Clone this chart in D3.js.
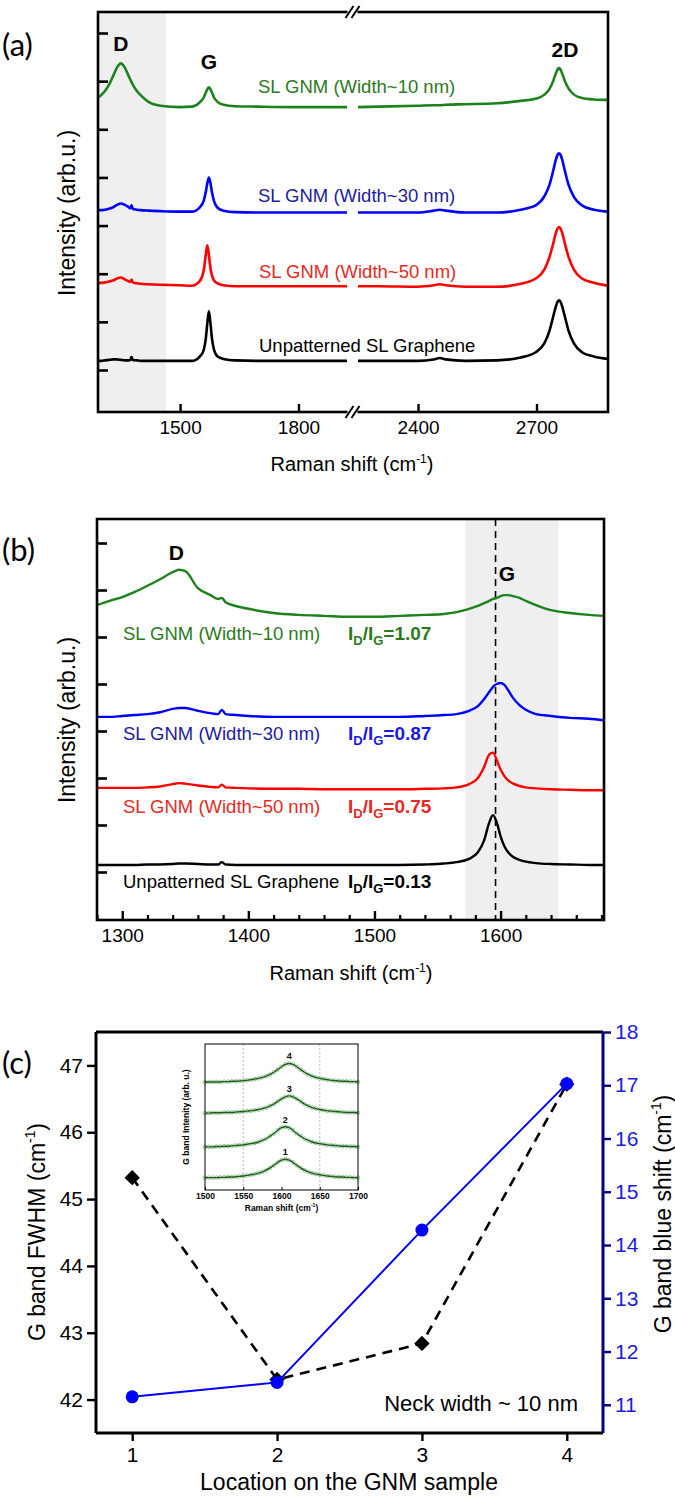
<!DOCTYPE html>
<html><head><meta charset="utf-8">
<script src="https://cdn.jsdelivr.net/npm/d3@7"></script>
<style>body{margin:0;background:#fff}svg{display:block}</style>
</head><body><svg id="c" width="675" height="1498"></svg>
<script>
// ---------------- DATA ----------------
// Panel (a): broken Raman axis, shared x grid per segment (cm-1)
const aGridL=[1292,1300,1310,1320,1330,1340,1350,1360,1370,1374,1377,1380,1390,1400,1420,1450,1500,1530,1550,1560,1565,1569,1573,1577,1581,1586,1595,1610,1640,1700,1800,1923];
const aGridR=[2248,2300,2400,2440,2455,2470,2520,2600,2660,2700,2720,2733,2742,2749,2754,2757,2760,2765,2772,2781,2795,2815,2845,2881];
const aGreenL=[5.66,5.71,5.80,5.93,6.10,6.28,6.37,6.28,6.10,6.03,5.98,5.93,5.80,5.71,5.57,5.49,5.46,5.47,5.56,5.66,5.76,5.83,5.87,5.83,5.76,5.66,5.57,5.51,5.48,5.47,5.46,5.46];
const aGreenR=[5.46,5.47,5.49,5.50,5.50,5.51,5.52,5.54,5.59,5.64,5.72,5.84,6.00,6.16,6.25,6.27,6.25,6.16,6.00,5.85,5.72,5.65,5.62,5.61];
const aBlueL=[3.32,3.32,3.33,3.35,3.38,3.43,3.46,3.43,3.38,3.36,3.42,3.35,3.33,3.32,3.31,3.30,3.29,3.29,3.38,3.52,3.69,3.88,4.00,3.88,3.68,3.51,3.37,3.31,3.28,3.27,3.27,3.27];
const aBlueR=[3.27,3.27,3.27,3.31,3.33,3.31,3.27,3.27,3.33,3.43,3.61,3.85,4.13,4.37,4.48,4.50,4.48,4.37,4.13,3.85,3.59,3.42,3.33,3.29];
const aRedL=[1.81,1.81,1.82,1.84,1.86,1.90,1.92,1.88,1.84,1.83,1.88,1.82,1.80,1.79,1.78,1.77,1.76,1.75,1.85,2.07,2.39,2.59,2.39,2.11,1.96,1.86,1.80,1.76,1.74,1.74,1.74,1.74];
const aRedR=[1.74,1.74,1.73,1.76,1.78,1.76,1.73,1.73,1.79,1.91,2.09,2.35,2.62,2.85,2.95,2.97,2.95,2.85,2.62,2.35,2.08,1.90,1.81,1.75];
const aBlackL=[0.19,0.19,0.20,0.21,0.22,0.22,0.21,0.20,0.20,0.21,0.27,0.21,0.20,0.19,0.19,0.19,0.19,0.19,0.28,0.42,0.64,0.97,1.22,0.97,0.64,0.42,0.28,0.23,0.20,0.19,0.19,0.19];
const aBlackR=[0.19,0.19,0.19,0.22,0.25,0.22,0.19,0.20,0.26,0.38,0.56,0.82,1.10,1.32,1.43,1.45,1.43,1.32,1.10,0.82,0.55,0.37,0.28,0.23];
const aXTicks=[1500,1800,2400,2700];
const aYTicks=[0,1,2,3,4,5,6,7];
const aBand=[1292,1464];

// Panel (b)
const bGrid=[1280,1290,1300,1310,1320,1330,1340,1345,1350,1360,1370,1376,1379,1382,1390,1400,1420,1440,1460,1480,1500,1520,1540,1555,1565,1575,1582,1587,1591,1594,1597,1600,1603,1606,1610,1615,1620,1628,1640,1655,1670,1682];
const bGreen=[5.68,5.77,5.85,5.96,6.09,6.23,6.38,6.43,6.40,6.04,5.89,5.81,5.83,5.74,5.66,5.60,5.51,5.47,5.45,5.43,5.43,5.45,5.47,5.49,5.53,5.60,5.66,5.72,5.77,5.81,5.83,5.87,5.89,5.89,5.87,5.83,5.77,5.68,5.57,5.51,5.47,5.45];
const bBlue=[3.30,3.30,3.32,3.34,3.36,3.40,3.47,3.49,3.49,3.43,3.38,3.36,3.45,3.36,3.34,3.32,3.30,3.30,3.30,3.30,3.30,3.30,3.32,3.34,3.36,3.43,3.53,3.68,3.83,3.94,4.00,4.02,3.98,3.87,3.70,3.55,3.45,3.36,3.32,3.28,3.26,3.23];
const bRed=[1.79,1.79,1.79,1.79,1.80,1.82,1.87,1.89,1.88,1.84,1.81,1.80,1.86,1.80,1.79,1.78,1.77,1.77,1.76,1.76,1.76,1.76,1.77,1.78,1.80,1.87,2.00,2.24,2.50,2.54,2.38,2.18,2.04,1.95,1.88,1.83,1.80,1.78,1.76,1.75,1.74,1.74];
const bBlack=[0.15,0.15,0.15,0.15,0.16,0.16,0.17,0.18,0.18,0.17,0.16,0.16,0.21,0.16,0.15,0.15,0.15,0.15,0.15,0.15,0.15,0.15,0.16,0.18,0.21,0.28,0.42,0.68,1.05,1.21,1.05,0.76,0.55,0.42,0.32,0.26,0.22,0.19,0.17,0.16,0.15,0.15];
const bXMajor=[1300,1400,1500,1600];
const bXMinor=[1280,1320,1340,1360,1380,1420,1440,1460,1480,1520,1540,1560,1580,1620,1640,1660,1680];
const bYTicks=[0,1,2,3,4,5,6,7];
const bBand=[1572,1646];
const bDash=1596;
const bLabels=[
  {name:"SL GNM (Width~10 nm)",ratio:"1.07",color:"#2b7a22",rcolor:"#2b7a22",y:640},
  {name:"SL GNM (Width~30 nm)",ratio:"0.87",color:"#1c1c9e",rcolor:"#1a1ae0",y:740},
  {name:"SL GNM (Width~50 nm)",ratio:"0.75",color:"#e62a22",rcolor:"#e62a22",y:813},
  {name:"Unpatterned SL Graphene",ratio:"0.13",color:"#000",rcolor:"#000",y:888}
];

// Panel (c)
const cLoc=[1,2,3,4];
const cFWHM=[45.32,42.30,42.84,46.72];
const cShift=[11.15,11.42,14.28,17.03];
const cLeftTicks=[42,43,44,45,46,47];
const cRightTicks=[11,12,13,14,15,16,17,18];
// Inset of (c)
const inX=[1500,1505,1510,1515,1520,1525,1530,1535,1540,1545,1550,1555,1560,1565,1570,1575,1580,1585,1590,1595,1600,1605,1610,1615,1620,1625,1630,1635,1640,1645,1650,1655,1660,1665,1670,1675,1680,1685,1690,1695,1700];
const in1=[0.38,0.38,0.38,0.38,0.39,0.39,0.40,0.40,0.41,0.42,0.43,0.45,0.47,0.49,0.52,0.56,0.61,0.68,0.76,0.85,0.92,0.95,0.92,0.85,0.76,0.68,0.61,0.56,0.52,0.49,0.47,0.45,0.43,0.42,0.41,0.40,0.40,0.39,0.39,0.38,0.38];
const in2=[1.33,1.33,1.33,1.34,1.34,1.35,1.35,1.36,1.37,1.38,1.39,1.41,1.43,1.45,1.48,1.53,1.58,1.66,1.74,1.84,1.92,1.95,1.92,1.84,1.74,1.66,1.58,1.53,1.48,1.45,1.43,1.41,1.39,1.38,1.37,1.36,1.35,1.35,1.34,1.34,1.33];
const in3=[2.37,2.37,2.38,2.38,2.38,2.39,2.39,2.39,2.40,2.41,2.42,2.43,2.44,2.46,2.48,2.51,2.54,2.59,2.65,2.73,2.81,2.87,2.90,2.87,2.81,2.73,2.65,2.59,2.54,2.51,2.48,2.46,2.44,2.43,2.42,2.41,2.40,2.39,2.39,2.39,2.38];
const in4=[3.32,3.33,3.33,3.33,3.33,3.34,3.34,3.35,3.35,3.36,3.37,3.38,3.40,3.42,3.44,3.47,3.51,3.56,3.63,3.71,3.80,3.87,3.90,3.87,3.80,3.71,3.63,3.56,3.51,3.47,3.44,3.42,3.40,3.38,3.37,3.36,3.35,3.35,3.34,3.34,3.33];
const inTicks=[1500,1550,1600,1650,1700];
const inGuides=[1550,1650];
const inPeakLabels=[{t:"1",x:1605,y:0.95},{t:"2",x:1605,y:1.95},{t:"3",x:1610,y:2.90},{t:"4",x:1610,y:3.90}];

// ---------------- DRAW ----------------
const F='"Liberation Sans", Arial, Helvetica, sans-serif';
const svg=d3.select('#c');
svg.append('rect').attr('width',675).attr('height',1498).attr('fill','#fff');

function supTitle(g,x,y,pre,size,rot,color){
  const t=g.append('text').attr('font-family',F).attr('font-size',size).attr('fill',color||'#000').attr('text-anchor','middle');
  if(rot) t.attr('transform',`translate(${x},${y}) rotate(-90)`); else t.attr('x',x).attr('y',y);
  t.append('tspan').text(pre+' (cm');
  t.append('tspan').attr('font-size',size*0.6).attr('dy',-size*0.42).text('-1');
  t.append('tspan').attr('dy',size*0.42).text(')');
  return t;
}
function panelLabel(txt,x,y){
  svg.append('text').attr('x',x).attr('y',y).attr('font-family','Lato, "Open Sans", sans-serif').attr('font-size',31).text(txt);
}

// ===== Panel (a) =====
{
const A={l:98,r:608,t:12,b:412};
const xA=d3.scaleLinear().domain([1292,1923,2248,2881]).range([A.l,347,358,A.r]);
const yA=d3.scaleLinear().domain([0,7]).range([370,33]);
const g=svg.append('g');
g.append('rect').attr('x',xA(aBand[0])).attr('y',A.t).attr('width',xA(aBand[1])-xA(aBand[0])).attr('height',A.b-A.t).attr('fill','#efefef');
const line=d3.line().x(d=>xA(d[0])).y(d=>yA(d[1])).curve(d3.curveMonotoneX);
const series=[[aBlackL,aBlackR,'#000'],[aRedL,aRedR,'#ff0000'],[aBlueL,aBlueR,'#0000ff'],[aGreenL,aGreenR,'#1c821c']];
series.forEach(([L,R,c])=>{
  g.append('path').attr('d',line(aGridL.map((x,i)=>[x,L[i]]))).attr('fill','none').attr('stroke',c).attr('stroke-width',2.6);
  g.append('path').attr('d',line(aGridR.map((x,i)=>[x,R[i]]))).attr('fill','none').attr('stroke',c).attr('stroke-width',2.6);
});
g.append('rect').attr('x',A.l).attr('y',A.t).attr('width',A.r-A.l).attr('height',A.b-A.t).attr('fill','none').attr('stroke','#000').attr('stroke-width',2.6);
g.append('g').attr('transform',`translate(${A.l},0)`).call(d3.axisLeft(yA).tickValues(aYTicks).tickSize(-10).tickFormat(''))
 .call(a=>{a.select('.domain').remove();a.selectAll('line').attr('stroke-width',2.6);});
g.append('g').attr('transform',`translate(0,${A.b})`).call(d3.axisBottom(xA).tickValues(aXTicks).tickSize(-8).tickPadding(9).tickFormat(d3.format('d')))
 .call(a=>{a.select('.domain').remove();a.selectAll('line').attr('stroke-width',2.4);
   a.selectAll('text').attr('font-family',F).attr('font-size',19).attr('fill','#000');});
// axis breaks
const bx=352.5;
[A.t,A.b].forEach(y=>{
  g.append('rect').attr('x',bx-5).attr('y',y-3).attr('width',10).attr('height',6).attr('fill','#fff');
  [-3,3].forEach(o=>g.append('line').attr('x1',bx+o-4).attr('y1',y+6).attr('x2',bx+o+4).attr('y2',y-6).attr('stroke','#000').attr('stroke-width',2));
});
// labels
const bold=(t,x,y)=>g.append('text').attr('x',x).attr('y',y).attr('text-anchor','middle').attr('font-family',F).attr('font-weight','bold').attr('font-size',21).text(t);
bold('D',xA(1350),51); bold('G',xA(1573),69); bold('2D',xA(2772),57);
const lab=(t,x,y,c)=>g.append('text').attr('x',x).attr('y',y).attr('font-family',F).attr('font-size',18.5).attr('fill',c).text(t);
lab('SL GNM (Width~10 nm)',258,93,'#2b7a22');
lab('SL GNM (Width~30 nm)',258,202,'#1c1c9e');
lab('SL GNM (Width~50 nm)',259,278,'#e62a22');
lab('Unpatterned SL Graphene',259,352,'#000');
supTitle(g,352,471,'Raman shift',20,false);
g.append('text').attr('transform','translate(75,213) rotate(-90)').attr('text-anchor','middle').attr('font-family',F).attr('font-size',23).text('Intensity (arb.u.)');
panelLabel('(a)',2,56);
}

// ===== Panel (b) =====
{
const B={l:97,r:604,t:519,b:920};
const xB=d3.scaleLinear().domain([1280,1682]).range([B.l,B.r]);
const yB=d3.scaleLinear().domain([0,7]).range([872,543]);
const g=svg.append('g');
g.append('rect').attr('x',xB(bBand[0])).attr('y',B.t).attr('width',xB(bBand[1])-xB(bBand[0])).attr('height',B.b-B.t).attr('fill','#efefef');
g.append('line').attr('x1',xB(bDash)).attr('x2',xB(bDash)).attr('y1',B.t).attr('y2',B.b).attr('stroke','#000').attr('stroke-width',1.6).attr('stroke-dasharray','7,5');
const line=d3.line().x(d=>xB(d[0])).y(d=>yB(d[1])).curve(d3.curveMonotoneX);
[[bBlack,'#000'],[bRed,'#ff0000'],[bBlue,'#0000ff'],[bGreen,'#1c821c']].forEach(([Y,c])=>{
  g.append('path').attr('d',line(bGrid.map((x,i)=>[x,Y[i]]))).attr('fill','none').attr('stroke',c).attr('stroke-width',2.4);
});
g.append('rect').attr('x',B.l).attr('y',B.t).attr('width',B.r-B.l).attr('height',B.b-B.t).attr('fill','none').attr('stroke','#000').attr('stroke-width',2.6);
g.append('g').attr('transform',`translate(${B.l},0)`).call(d3.axisLeft(yB).tickValues(bYTicks).tickSize(-10).tickFormat(''))
 .call(a=>{a.select('.domain').remove();a.selectAll('line').attr('stroke-width',2.6);});
g.append('g').attr('transform',`translate(0,${B.b})`).call(d3.axisBottom(xB).tickValues(bXMinor).tickSize(-5).tickFormat(''))
 .call(a=>{a.select('.domain').remove();a.selectAll('line').attr('stroke-width',2.2);});
g.append('g').attr('transform',`translate(0,${B.b})`).call(d3.axisBottom(xB).tickValues(bXMajor).tickSize(-9).tickPadding(9).tickFormat(d3.format('d')))
 .call(a=>{a.select('.domain').remove();a.selectAll('line').attr('stroke-width',2.4);
   a.selectAll('text').attr('font-family',F).attr('font-size',19).attr('fill','#000');});
const bold=(t,x,y)=>g.append('text').attr('x',x).attr('y',y).attr('text-anchor','middle').attr('font-family',F).attr('font-weight','bold').attr('font-size',21).text(t);
bold('D',xB(1343),560); bold('G',xB(1605),581);
bLabels.forEach(d=>{
  g.append('text').attr('x',123).attr('y',d.y).attr('font-family',F).attr('font-size',18.5).attr('fill',d.color).text(d.name);
  const t=g.append('text').attr('x',348).attr('y',d.y).attr('font-family',F).attr('font-size',19).attr('font-weight','bold').attr('fill',d.rcolor);
  t.append('tspan').text('I');
  t.append('tspan').attr('font-size',13).attr('dy',5).text('D');
  t.append('tspan').attr('dy',-5).text('/I');
  t.append('tspan').attr('font-size',13).attr('dy',5).text('G');
  t.append('tspan').attr('dy',-5).text('='+d.ratio);
});
supTitle(g,351,980,'Raman shift',20,false);
g.append('text').attr('transform','translate(75,720) rotate(-90)').attr('text-anchor','middle').attr('font-family',F).attr('font-size',23).text('Intensity (arb.u.)');
panelLabel('(b)',2,561);
}

// ===== Panel (c) =====
{
const C={l:96,r:603,t:1032,b:1433};
const xC=d3.scaleLinear().domain([0.75,4.25]).range([C.l,C.r]);
const yL=d3.scaleLinear().domain([41.5,47.5]).range([C.b,C.t]);
const yR=d3.scaleLinear().domain([10.47,18]).range([C.b,C.t]);
const g=svg.append('g');
// inset
const I={l:205,r:358,t:1044,b:1190};
const xI=d3.scaleLinear().domain([1500,1700]).range([I.l,I.r]);
const yI=d3.scaleLinear().domain([0,4.5]).range([I.b,I.t]);
inGuides.forEach(v=>g.append('line').attr('x1',xI(v)).attr('x2',xI(v)).attr('y1',I.t).attr('y2',I.b).attr('stroke','#bbb').attr('stroke-width',1).attr('stroke-dasharray','2,2'));
const il=d3.line().x((d,i)=>xI(inX[i])).y(d=>yI(d)).curve(d3.curveMonotoneX);
[in1,in2,in3,in4].forEach(S=>{
  g.append('g').selectAll('circle').data(S).join('circle').attr('cx',(d,i)=>xI(inX[i])).attr('cy',d=>yI(d)).attr('r',1.8).attr('fill','none').attr('stroke','#7fb47f').attr('stroke-width',0.8);
  g.append('path').attr('d',il(S)).attr('fill','none').attr('stroke','#1a5e1a').attr('stroke-width',1.4);
});
inPeakLabels.forEach(p=>g.append('text').attr('x',xI(p.x)).attr('y',yI(p.y)-4).attr('text-anchor','middle').attr('font-family',F).attr('font-weight','bold').attr('font-size',9).text(p.t));
g.append('rect').attr('x',I.l).attr('y',I.t).attr('width',I.r-I.l).attr('height',I.b-I.t).attr('fill','none').attr('stroke','#000').attr('stroke-width',1);
g.append('g').attr('transform',`translate(0,${I.b})`).call(d3.axisBottom(xI).tickValues(inTicks).tickSize(-3).tickPadding(3).tickFormat(d3.format('d')))
 .call(a=>{a.select('.domain').remove();a.selectAll('text').attr('font-family',F).attr('font-size',8.5).attr('font-weight','bold').attr('fill','#000');});
supTitle(g,(I.l+I.r)/2,I.b+21,'Raman shift',8.5,false).attr('font-weight','bold');
g.append('text').attr('transform',`translate(${I.l-16},${(I.t+I.b)/2}) rotate(-90)`).attr('text-anchor','middle').attr('font-family',F).attr('font-size',8.5).attr('font-weight','bold').text('G band Intenity (arb. u.)');

// main lines
const lf=d3.line().x((d,i)=>xC(cLoc[i])).y(d=>yL(d));
const ls=d3.line().x((d,i)=>xC(cLoc[i])).y(d=>yR(d));
g.append('path').attr('d',lf(cFWHM)).attr('fill','none').attr('stroke','#000').attr('stroke-width',2.6).attr('stroke-dasharray','10,7');
g.selectAll('.dia').data(cFWHM).join('path').attr('transform',(d,i)=>`translate(${xC(cLoc[i])},${yL(d)})`).attr('d',d3.symbol(d3.symbolDiamond2,150)()).attr('fill','#000');
g.append('path').attr('d',ls(cShift)).attr('fill','none').attr('stroke','#0000ff').attr('stroke-width',2);
g.selectAll('.cir').data(cShift).join('circle').attr('cx',(d,i)=>xC(cLoc[i])).attr('cy',d=>yR(d)).attr('r',6.5).attr('fill','#0000ff');
// frame
g.append('line').attr('x1',C.l).attr('x2',C.r).attr('y1',C.t).attr('y2',C.t).attr('stroke','#000').attr('stroke-width',3);
g.append('line').attr('x1',C.l).attr('x2',C.r).attr('y1',C.b).attr('y2',C.b).attr('stroke','#000').attr('stroke-width',3);
g.append('line').attr('x1',C.l).attr('x2',C.l).attr('y1',C.t).attr('y2',C.b).attr('stroke','#000').attr('stroke-width',3);
g.append('line').attr('x1',C.r).attr('x2',C.r).attr('y1',C.t).attr('y2',C.b).attr('stroke','#000080').attr('stroke-width',3);
g.append('g').attr('transform',`translate(${C.l},0)`).call(d3.axisLeft(yL).tickValues(cLeftTicks).tickSize(9).tickPadding(4).tickFormat(d3.format('d')))
 .call(a=>{a.select('.domain').remove();a.selectAll('line').attr('stroke-width',2.4);
   a.selectAll('text').attr('font-family',F).attr('font-size',21).attr('fill','#000');});
g.append('g').attr('transform',`translate(${C.r},0)`).call(d3.axisRight(yR).tickValues(cRightTicks).tickSize(8).tickPadding(4).tickFormat(d3.format('d')))
 .call(a=>{a.select('.domain').remove();a.selectAll('line').attr('stroke-width',2.4).attr('stroke','#000080');
   a.selectAll('text').attr('font-family',F).attr('font-size',21).attr('fill','#1a1ae6');});
g.append('g').attr('transform',`translate(0,${C.b})`).call(d3.axisBottom(xC).tickValues(cLoc).tickSize(8).tickPadding(6).tickFormat(d3.format('d')))
 .call(a=>{a.select('.domain').remove();a.selectAll('line').attr('stroke-width',2.4);
   a.selectAll('text').attr('font-family',F).attr('font-size',21).attr('fill','#000');});
g.append('text').attr('x',578).attr('y',1411).attr('text-anchor','end').attr('font-family',F).attr('font-size',22).text('Neck width ~ 10 nm');
g.append('text').attr('x',349).attr('y',1490).attr('text-anchor','middle').attr('font-family',F).attr('font-size',23).text('Location on the GNM sample');
supTitle(g,45,1232,'G band FWHM',23,true);
supTitle(g,671,1214,'G band blue shift',23,true);
panelLabel('(c)',2,1074);
}
</script></body></html>
